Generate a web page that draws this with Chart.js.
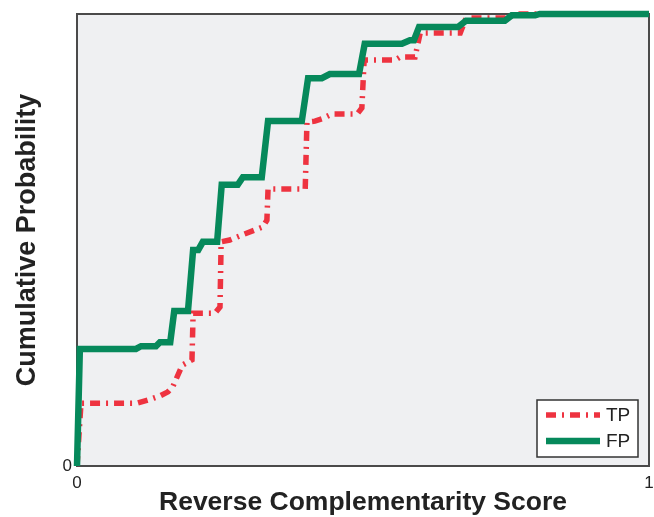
<!DOCTYPE html>
<html>
<head>
<meta charset="utf-8">
<script src="https://cdn.jsdelivr.net/npm/chart.js@4"></script>
<style>
  html, body { margin: 0; padding: 0; background: #ffffff; }
  #wrap { width: 654px; height: 517px; }
</style>
</head>
<body>
<div id="wrap"><canvas id="c" width="654" height="517"></canvas></div>
<script>
// ---- data ----
const seriesLabels = ['TP', 'FP'];
const xTickLabels = ['0', '1'];
const yTickLabels = ['0'];
const xTitle = 'Reverse Complementarity Score';
const yTitle = 'Cumulative Probability';

const tpX = [0.000, 0.007, 0.105, 0.124, 0.145, 0.159, 0.168, 0.184, 0.201, 0.203, 0.241, 0.250, 0.252, 0.267, 0.288, 0.325, 0.332, 0.334, 0.399, 0.402, 0.416, 0.428, 0.446, 0.490, 0.498, 0.502, 0.556, 0.565, 0.591, 0.600, 0.670, 0.680, 0.753, 0.766, 1.000];
const tpY = [0.000, 0.139, 0.139, 0.146, 0.155, 0.164, 0.177, 0.223, 0.235, 0.338, 0.338, 0.352, 0.496, 0.500, 0.511, 0.529, 0.544, 0.613, 0.613, 0.761, 0.763, 0.768, 0.779, 0.779, 0.792, 0.898, 0.898, 0.905, 0.905, 0.958, 0.958, 0.991, 0.991, 1.000, 1.000];

const fpX = [0.000, 0.005, 0.103, 0.112, 0.138, 0.145, 0.163, 0.170, 0.194, 0.203, 0.212, 0.220, 0.245, 0.253, 0.281, 0.290, 0.323, 0.334, 0.393, 0.404, 0.428, 0.442, 0.493, 0.503, 0.568, 0.582, 0.589, 0.598, 0.666, 0.680, 0.748, 0.760, 0.801, 0.809, 1.000];
const fpY = [0.000, 0.259, 0.259, 0.265, 0.265, 0.274, 0.274, 0.343, 0.343, 0.478, 0.478, 0.496, 0.496, 0.622, 0.622, 0.639, 0.639, 0.763, 0.763, 0.858, 0.858, 0.867, 0.867, 0.934, 0.934, 0.942, 0.942, 0.971, 0.971, 0.985, 0.985, 0.997, 0.997, 1.000, 1.000];

const RED = '#ee3340';
const GREEN = '#06895b';
const FONT = '"Liberation Sans", Arial, Helvetica, sans-serif';

const toPts = (xs, ys) => xs.map((x, i) => ({ x: x, y: ys[i] }));

const plotBg = {
  id: 'plotBg',
  beforeDatasetsDraw(chart) {
    const { ctx, chartArea: a } = chart;
    ctx.save();
    ctx.fillStyle = '#eff0f2';
    ctx.fillRect(a.left, a.top, a.right - a.left, a.bottom - a.top);
    ctx.strokeStyle = '#4a4a4a';
    ctx.lineWidth = 2;
    ctx.strokeRect(a.left, a.top, a.right - a.left, a.bottom - a.top);
    ctx.restore();
  }
};

const boxLegend = {
  id: 'boxLegend',
  afterDraw(chart) {
    const { ctx, chartArea: a } = chart;
    const ds = chart.data.datasets;
    const w = 101, h = 57;
    const x0 = a.right - 11 - w, y0 = a.bottom - 9 - h;
    ctx.save();
    ctx.fillStyle = '#ffffff';
    ctx.fillRect(x0, y0, w, h);
    ctx.strokeStyle = '#333333';
    ctx.lineWidth = 1.5;
    ctx.strokeRect(x0, y0, w, h);
    const rows = [y0 + 15, y0 + 41];
    ds.forEach((d, i) => {
      const y = rows[i];
      ctx.beginPath();
      ctx.strokeStyle = d.borderColor;
      ctx.lineWidth = d.borderWidth;
      ctx.setLineDash(d.borderDash || []);
      ctx.moveTo(x0 + 9, y);
      ctx.lineTo(x0 + 63, y);
      ctx.stroke();
      ctx.setLineDash([]);
      ctx.fillStyle = '#222222';
      ctx.font = '19px ' + FONT;
      ctx.textAlign = 'left';
      ctx.textBaseline = 'middle';
      ctx.fillText(d.label, x0 + 69, y + 1);
    });
    ctx.restore();
  }
};

new Chart(document.getElementById('c'), {
  type: 'scatter',
  data: {
    datasets: [
      {
        label: seriesLabels[0],
        data: toPts(tpX, tpY),
        showLine: true,
        borderColor: RED,
        backgroundColor: RED,
        borderWidth: 5.5,
        borderDash: [10, 6, 2, 6],
        pointRadius: 0,
        tension: 0,
        clip: false,
        order: 1
      },
      {
        label: seriesLabels[1],
        data: toPts(fpX, fpY),
        showLine: true,
        borderColor: GREEN,
        backgroundColor: GREEN,
        borderWidth: 6.5,
        pointRadius: 0,
        tension: 0,
        clip: false,
        order: 0
      }
    ]
  },
  options: {
    responsive: false,
    devicePixelRatio: 1,
    animation: false,
    layout: { padding: { top: 14, right: 5, left: 0, bottom: 0 } },
    plugins: { legend: { display: false }, tooltip: { enabled: false } },
    scales: {
      x: {
        type: 'linear', min: 0, max: 1,
        grid: { display: false, drawTicks: false },
        border: { display: false },
        ticks: {
          stepSize: 1, padding: 7, color: '#222222', maxRotation: 0,
          font: { family: FONT, size: 17 },
          callback: (v) => (v === 0 ? xTickLabels[0] : v === 1 ? xTickLabels[1] : '')
        },
        title: {
          display: true, text: xTitle, color: '#222222',
          font: { family: FONT, size: 26.5, weight: 'bold', lineHeight: 1 },
          padding: { top: 0, bottom: 1 }
        },
        afterFit: (s) => { s.height = 51; s.paddingRight = 0; s.paddingLeft = 0; }
      },
      y: {
        type: 'linear', min: 0, max: 1,
        grid: { display: false, drawTicks: false },
        border: { display: false },
        ticks: {
          stepSize: 1, padding: 5, color: '#222222',
          font: { family: FONT, size: 17 },
          callback: (v) => (v === 0 ? yTickLabels[0] : '')
        },
        title: {
          display: true, text: yTitle, color: '#222222',
          font: { family: FONT, size: 27, weight: 'bold', lineHeight: 1 },
          padding: { top: 14, bottom: 0 }
        },
        afterFit: (s) => { s.width = 77; s.paddingTop = 0; s.paddingBottom = 0; }
      }
    }
  },
  plugins: [plotBg, boxLegend]
});
</script>
</body>
</html>
